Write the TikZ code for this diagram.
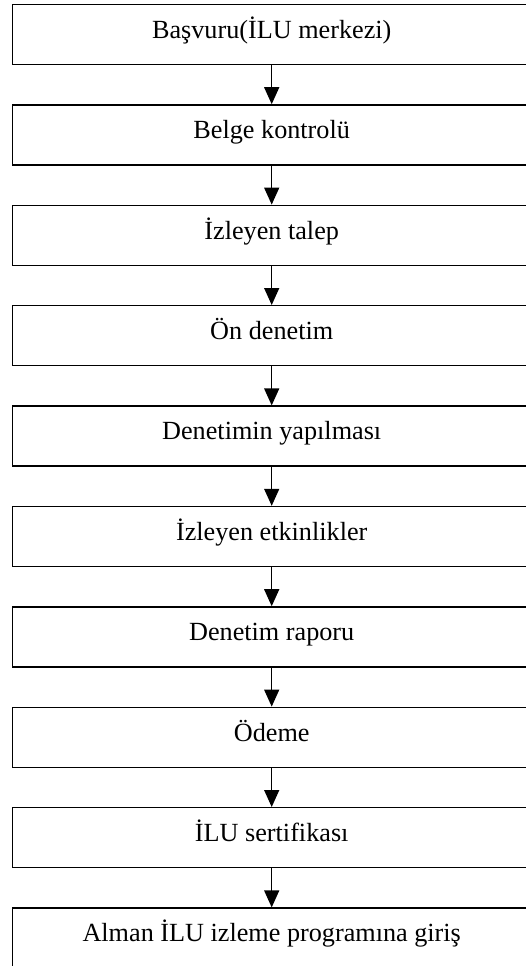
\documentclass[tikz,border=0pt]{standalone}
\usepackage{fontspec}
\setmainfont{Liberation Serif}
\usetikzlibrary{arrows.meta}
\begin{document}
\begin{tikzpicture}[x=1pt,y=1pt,
  stage/.style={draw, line width=1.4pt, minimum width=518.4pt, minimum height=60pt,
    inner sep=0pt, text height=20pt, text depth=12.4pt,
    font=\fontsize{26.2}{31}\selectfont},
  flow/.style={-{Triangle[width=15pt,length=17pt]}, line width=1.4pt}]
\useasboundingbox (0,0) rectangle (526,-966);
% process stages, top to bottom
\node[stage] (s0) at (271.7,-34.5)  {Başvuru(İLU merkezi)};
\node[stage] (s1) at (271.7,-134.9) {Belge kontrolü};
\node[stage] (s2) at (271.7,-235.3) {İzleyen talep};
\node[stage] (s3) at (271.7,-335.7) {Ön denetim};
\node[stage] (s4) at (271.7,-436.1) {Denetimin yapılması};
\node[stage] (s5) at (271.7,-536.5) {İzleyen etkinlikler};
\node[stage] (s6) at (271.7,-636.9) {Denetim raporu};
\node[stage] (s7) at (271.7,-737.3) {Ödeme};
\node[stage] (s8) at (271.7,-837.7) {İLU sertifikası};
\node[stage] (s9) at (271.7,-938.1) {Alman İLU izleme programına giriş};
% connectors between consecutive stages
\foreach \a/\b in {s0/s1,s1/s2,s2/s3,s3/s4,s4/s5,s5/s6,s6/s7,s7/s8,s8/s9}
  \draw[flow] (\a.south) -- (\b.north);
\end{tikzpicture}
\end{document}
